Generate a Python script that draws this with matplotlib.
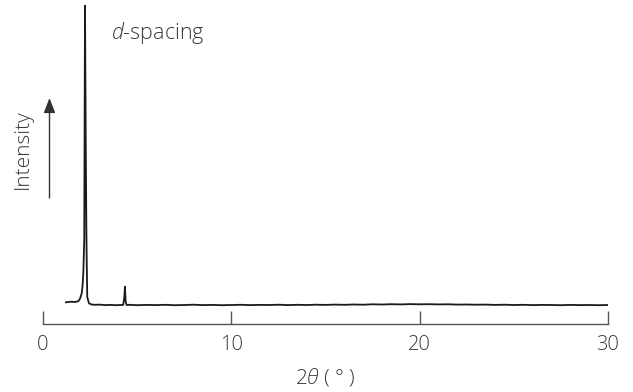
import matplotlib
matplotlib.use('Agg')
import matplotlib.pyplot as plt

plt.rcParams['font.family'] = ['Open Sans', 'DejaVu Sans']
plt.rcParams['font.weight'] = 'light'
plt.rcParams['mathtext.fontset'] = 'custom'
plt.rcParams['mathtext.rm'] = 'Open Sans:light'
plt.rcParams['mathtext.it'] = 'Open Sans:italic:light'

# diffraction pattern (2theta in degrees, intensity in arb. units)
peak_x = [1.22, 1.52, 1.7, 1.875, 1.97, 2.055, 2.1, 2.14, 2.19, 2.23, 2.27, 2.3, 2.32, 2.35,
          2.44, 2.59, 2.8, 3.0, 3.3, 3.6, 3.9, 4.1, 4.26, 4.32, 4.35, 4.39, 4.44, 4.6]
peak_y = [21.7, 22.3, 22.0, 22.8, 25.5, 30.7, 38.0, 50.7, 84.0, 319.0, 180.0, 100.0, 64.0, 27.0,
          20.7, 19.4, 19.2, 19.4, 18.9, 19.1, 18.8, 19.0, 19.1, 27.3, 37.3, 22.3, 19.0, 19.2]

base_x = [5.0, 5.5, 6.0, 6.5, 7.0, 7.5, 8.0, 8.5, 9.0, 9.5, 10.0, 10.5, 11.0, 11.5, 12.0,
          12.5, 13.0, 13.5, 14.0, 14.5, 15.0, 15.5, 16.0, 16.5, 17.0, 17.5, 18.0, 18.5, 19.0,
          19.5, 20.0, 20.5, 21.0, 21.5, 22.0, 22.5, 23.0, 23.5, 24.0, 24.5, 25.0, 25.5, 26.0,
          26.5, 27.0, 27.5, 28.0, 28.5, 29.0, 29.5, 30.0]
base_y = [18.8, 19.1, 18.9, 19.2, 18.8, 19.0, 19.3, 18.9, 19.1, 18.8, 19.0, 19.2, 18.9, 19.1,
          19.0, 19.3, 18.9, 19.2, 19.0, 19.3, 19.1, 19.4, 19.2, 19.5, 19.3, 19.7, 19.5, 19.8,
          19.6, 19.9, 19.7, 19.8, 19.6, 19.7, 19.4, 19.5, 19.3, 19.4, 19.1, 19.3, 19.0, 19.2,
          18.9, 19.1, 19.0, 18.8, 19.1, 18.9, 19.0, 18.8, 19.0]

x_ticks = [0, 10, 20, 30]

fig = plt.figure(figsize=(6.33, 3.92), dpi=100)
ax = fig.add_axes([43 / 633, 68 / 392, 565 / 633, 319 / 392])

ax.plot(peak_x + base_x, peak_y + base_y, color='#1a1a1a', lw=1.3)

ax.set_xlim(0, 30)
ax.set_ylim(0, 319)
for s in ['top', 'right', 'left']:
    ax.spines[s].set_visible(False)
ax.spines['bottom'].set_color('#555555')
ax.spines['bottom'].set_linewidth(1.0)
ax.set_yticks([])
ax.set_xticks(x_ticks)
ax.tick_params(axis='x', direction='in', length=9.5, width=1.0, color='#555555',
               labelsize=14.5, labelcolor='#3a3a3a', pad=8)

fig.text(325 / 633, 1 - 377 / 392, r'2$\it{θ}$ ( ° )', ha='center', va='center',
         fontsize=15, color='#3a3a3a')
fig.text(23 / 633, 1 - 149 / 392, 'Intensity', rotation=90, ha='center', va='center',
         fontsize=15, color='#3a3a3a')
fig.text(111 / 633, 1 - 33 / 392, r'$\it{d}$-spacing', ha='left', va='center',
         fontsize=15.5, color='#3a3a3a')

ax.annotate('', xy=(49.5 / 633, 1 - 98 / 392), xytext=(49.5 / 633, 1 - 198 / 392),
            xycoords='figure fraction', textcoords='figure fraction',
            arrowprops=dict(arrowstyle='-|>,head_length=0.9,head_width=0.35',
                            color='#333333', lw=1.0, shrinkA=0, shrinkB=0))

fig.savefig('out.png', dpi=100)
